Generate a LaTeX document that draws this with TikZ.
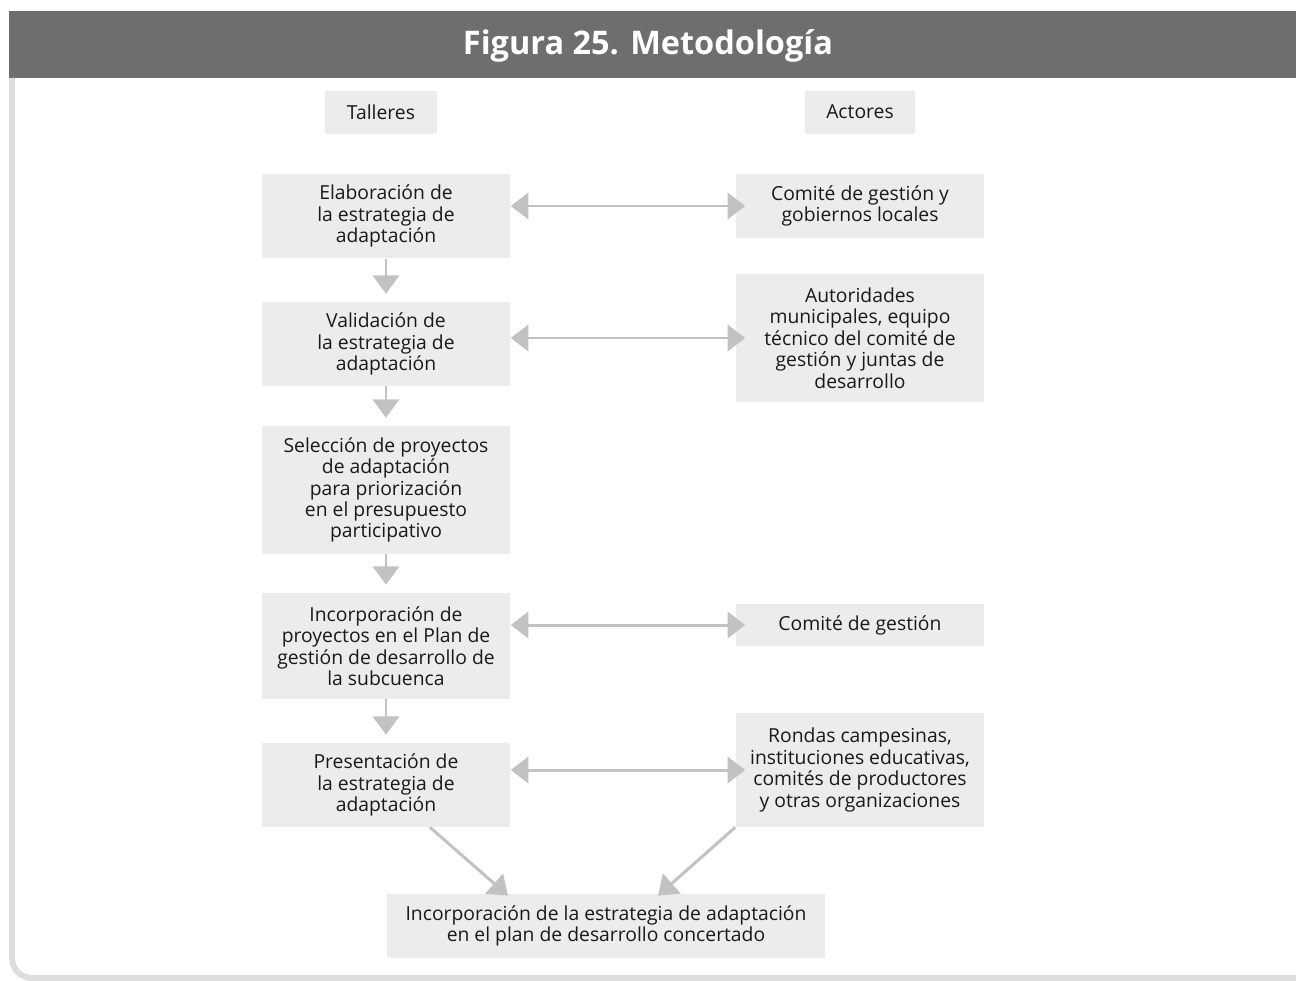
\documentclass[tikz,border=0pt]{standalone}
\usepackage{fontspec}
\setmainfont{Open Sans}
\usetikzlibrary{arrows.meta,calc}

\definecolor{headgray}{HTML}{6E6E6E}
\definecolor{boxgray}{HTML}{ECECEC}
\definecolor{arrowgray}{HTML}{C2C2C2}
\definecolor{framegray}{HTML}{DCDDDD}

\tikzset{
  box/.style={fill=boxgray, align=center, inner sep=0pt, text=black!90,
    font=\fontsize{11}{12.2}\selectfont, minimum width=4.98cm},
  link/.style={draw=arrowgray, line width=1.7pt,
    -{Triangle[width=15pt,length=10.5pt]}},
  twoway/.style={link, {Triangle[width=15pt,length=10pt]}-{Triangle[width=15pt,length=10pt]}}
}

\begin{document}
\begin{tikzpicture}[x=0.02cm,y=-0.02cm]
    \useasboundingbox (0,0) rectangle (1296,981);
    % header and frame
    \fill[headgray] (9,11) rectangle (1296,78);
    \node[text=white, font=\bfseries\fontsize{18.5}{21}\selectfont] (title) at (648,46) {Figura 25. Metodología};
    \draw[framegray, line width=3.4pt, rounded corners=0.4cm] (12,78) -- (12,978) -- (1296,978);

    % column heads
    \node[box, minimum width=2.24cm, minimum height=0.86cm] (talleres) at (381,112) {Talleres};
    \node[box, minimum width=2.2cm, minimum height=0.86cm] (actores) at (860,112) {Actores};

    % talleres
    \node[box, minimum height=1.7cm] (E1) at (386,216) {Elaboración de\\la estrategia de\\adaptación};
    \node[box, minimum height=1.68cm] (E2) at (386,344) {Validación de\\la estrategia de\\adaptación};
    \node[box, minimum height=2.56cm] (E3) at (386,490) {Selección de proyectos\\de adaptación\\para priorización\\en el presupuesto\\participativo};
    \node[box, minimum height=2.12cm] (E4) at (386,646) {Incorporación de\\proyectos en el Plan de\\gestión de desarrollo de\\la subcuenca};
    \node[box, minimum height=1.68cm] (E5) at (386,785) {Presentación de\\la estrategia de\\adaptación};

    % actores
    \node[box, minimum height=1.28cm] (A1) at (860,206) {Comité de gestión y\\gobiernos locales};
    \node[box, minimum height=2.56cm] (A2) at (860,338) {Autoridades\\municipales, equipo\\técnico del comité de\\gestión y juntas de\\desarrollo};
    \node[box, minimum height=0.84cm] (A4) at (860,625) {Comité de gestión};
    \node[box, minimum height=2.28cm] (A5) at (860,770) {Rondas campesinas,\\instituciones educativas,\\comités de productores\\y otras organizaciones};

    \node[box, minimum width=8.78cm, minimum height=1.28cm] (F) at (606,926)
        {Incorporación de la estrategia de adaptación\\en el plan de desarrollo concertado};

    % flow
    \foreach \a/\b in {E1/E2, E2/E3, E3/E4, E4/E5}
        \draw[link, shorten >=4.5pt] (\a) -- (\b);
    \foreach \a/\b in {E1/A1, E2/A2, E4/A4, E5/A5}
        \draw[twoway, shorten >=-5.7pt] (\b.west -| \a.east) -- (\b.west);
    \draw[link] ($(E5.south)+(44,0)$) -- ($(F.north)+(-98,2)$);
    \draw[link] (A5.south west) -- ($(F.north)+(52,2)$);
\end{tikzpicture}
\end{document}
